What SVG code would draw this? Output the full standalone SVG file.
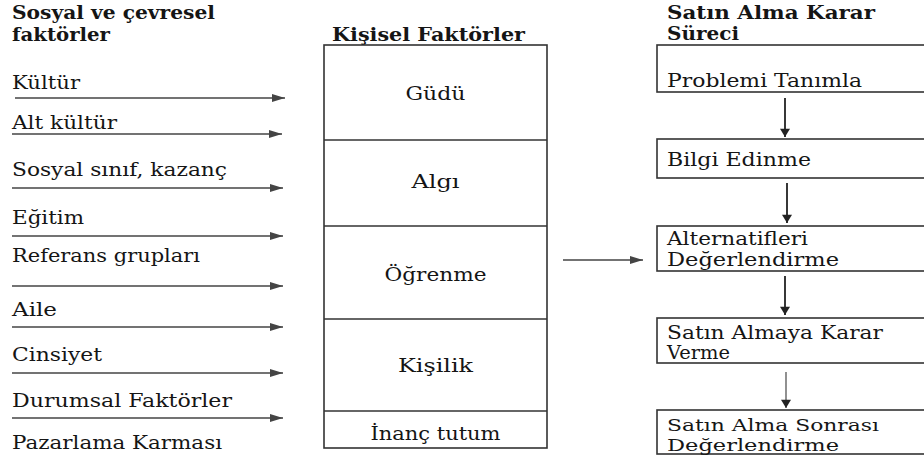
<svg xmlns="http://www.w3.org/2000/svg" width="924" height="460" viewBox="0 0 924 460">
<defs>
<style>
text{font-family:"DejaVu Serif","Liberation Serif",serif;font-size:19px;fill:#151515}
.b{font-weight:bold;font-size:18px}
.s{font-size:17.5px}
.c{text-anchor:middle}
.box{fill:none;stroke:#333;stroke-width:1.6}
.ln{stroke:#333;stroke-width:1.5;fill:none}
.arr{stroke:#444;stroke-width:1.4;fill:none;marker-end:url(#ah)}
.varr{stroke:#222;stroke-width:1.8;fill:none;marker-end:url(#ahd)}
</style>
<marker id="ah" viewBox="0 0 13 8" refX="13" refY="4" markerWidth="13" markerHeight="8" markerUnits="userSpaceOnUse" orient="auto">
<path d="M0,0 L13,4 L0,8 Z" fill="#444"/>
</marker>
<marker id="ahd" viewBox="0 0 10 12" refX="10" refY="6" markerWidth="12" markerHeight="10" markerUnits="userSpaceOnUse" orient="auto">
<path d="M0,0 L10,6 L0,12 Z" fill="#222"/>
</marker>
</defs>

<g id="left-title">
<text class="b" x="12" y="19" textLength="203" lengthAdjust="spacingAndGlyphs">Sosyal ve çevresel</text>
<text class="b" x="12" y="41" textLength="98" lengthAdjust="spacingAndGlyphs">faktörler</text>
</g>

<g id="social-factors">
<text x="12" y="89" textLength="68" lengthAdjust="spacingAndGlyphs">Kültür</text>
<text x="12" y="129" textLength="105" lengthAdjust="spacingAndGlyphs">Alt kültür</text>
<text x="12" y="176" textLength="215" lengthAdjust="spacingAndGlyphs">Sosyal sınıf, kazanç</text>
<text x="12" y="224" textLength="72" lengthAdjust="spacingAndGlyphs">Eğitim</text>
<text x="12" y="262" textLength="188" lengthAdjust="spacingAndGlyphs">Referans grupları</text>
<text x="12" y="316" textLength="45" lengthAdjust="spacingAndGlyphs">Aile</text>
<text x="12" y="361" textLength="90" lengthAdjust="spacingAndGlyphs">Cinsiyet</text>
<text x="12" y="407" textLength="220" lengthAdjust="spacingAndGlyphs">Durumsal Faktörler</text>
<text x="12" y="449" textLength="210" lengthAdjust="spacingAndGlyphs">Pazarlama Karması</text>
</g>

<g id="personal-factors">
<text class="b" x="332" y="41" textLength="193" lengthAdjust="spacingAndGlyphs">Kişisel Faktörler</text>
<rect class="box" x="324" y="45" width="223" height="403"/>
<line class="ln" x1="324" y1="140" x2="547" y2="140"/>
<line class="ln" x1="324" y1="226" x2="547" y2="226"/>
<line class="ln" x1="324" y1="319" x2="547" y2="319"/>
<line class="ln" x1="324" y1="411" x2="547" y2="411"/>
<text class="c" x="435.5" y="100" textLength="60" lengthAdjust="spacingAndGlyphs">Güdü</text>
<text class="c" x="435.5" y="188" textLength="48" lengthAdjust="spacingAndGlyphs">Algı</text>
<text class="c" x="435.5" y="281" textLength="102" lengthAdjust="spacingAndGlyphs">Öğrenme</text>
<text class="c" x="435.5" y="372" textLength="75" lengthAdjust="spacingAndGlyphs">Kişilik</text>
<text class="c" x="435.5" y="440" textLength="130" lengthAdjust="spacingAndGlyphs">İnanç tutum</text>
</g>

<g id="right-title">
<text class="b" x="667" y="19" textLength="208" lengthAdjust="spacingAndGlyphs">Satın Alma Karar</text>
<text class="b" x="667" y="40" textLength="72" lengthAdjust="spacingAndGlyphs">Süreci</text>
</g>

<g id="step1">
<rect class="box" x="657" y="45" width="280" height="47"/>
<text x="667" y="87" textLength="195" lengthAdjust="spacingAndGlyphs">Problemi Tanımla</text>
</g>
<g id="step2">
<rect class="box" x="657" y="139" width="280" height="39"/>
<text x="667" y="166" textLength="144" lengthAdjust="spacingAndGlyphs">Bilgi Edinme</text>
</g>
<g id="step3">
<rect class="box" x="657" y="226" width="280" height="45"/>
<text x="667" y="245" textLength="141" lengthAdjust="spacingAndGlyphs">Alternatifleri</text>
<text x="667" y="266" textLength="172" lengthAdjust="spacingAndGlyphs">Değerlendirme</text>
</g>
<g id="step4">
<rect class="box" x="657" y="318" width="280" height="45"/>
<text x="667" y="339" textLength="216" lengthAdjust="spacingAndGlyphs">Satın Almaya Karar</text>
<text x="667" y="359" textLength="63" lengthAdjust="spacingAndGlyphs">Verme</text>
</g>
<g id="step5">
<rect class="box" x="657" y="410" width="280" height="44"/>
<text class="s" x="667" y="431" textLength="212" lengthAdjust="spacingAndGlyphs">Satın Alma Sonrası</text>
<text class="s" x="667" y="451" textLength="172" lengthAdjust="spacingAndGlyphs">Değerlendirme</text>
</g>

<g id="connectors">
<line class="arr" x1="15" y1="98" x2="285" y2="98"/>
<line class="arr" x1="12" y1="134" x2="282" y2="134"/>
<line class="arr" x1="12" y1="188" x2="283" y2="188"/>
<line class="arr" x1="12" y1="236" x2="283" y2="236"/>
<line class="arr" x1="12" y1="286" x2="283" y2="286"/>
<line class="arr" x1="12" y1="327" x2="283" y2="327"/>
<line class="arr" x1="12" y1="373" x2="283" y2="373"/>
<line class="arr" x1="12" y1="418" x2="283" y2="418"/>
<line class="arr" x1="563" y1="260" x2="643" y2="260"/>
<line class="varr" x1="785" y1="98" x2="785" y2="137"/>
<line class="varr" x1="787" y1="183" x2="787" y2="223"/>
<line class="varr" x1="785" y1="276" x2="785" y2="315"/>
<line class="varr" x1="786" y1="372" x2="786" y2="408" style="stroke:#555;stroke-width:1.3"/>
</g>
</svg>
